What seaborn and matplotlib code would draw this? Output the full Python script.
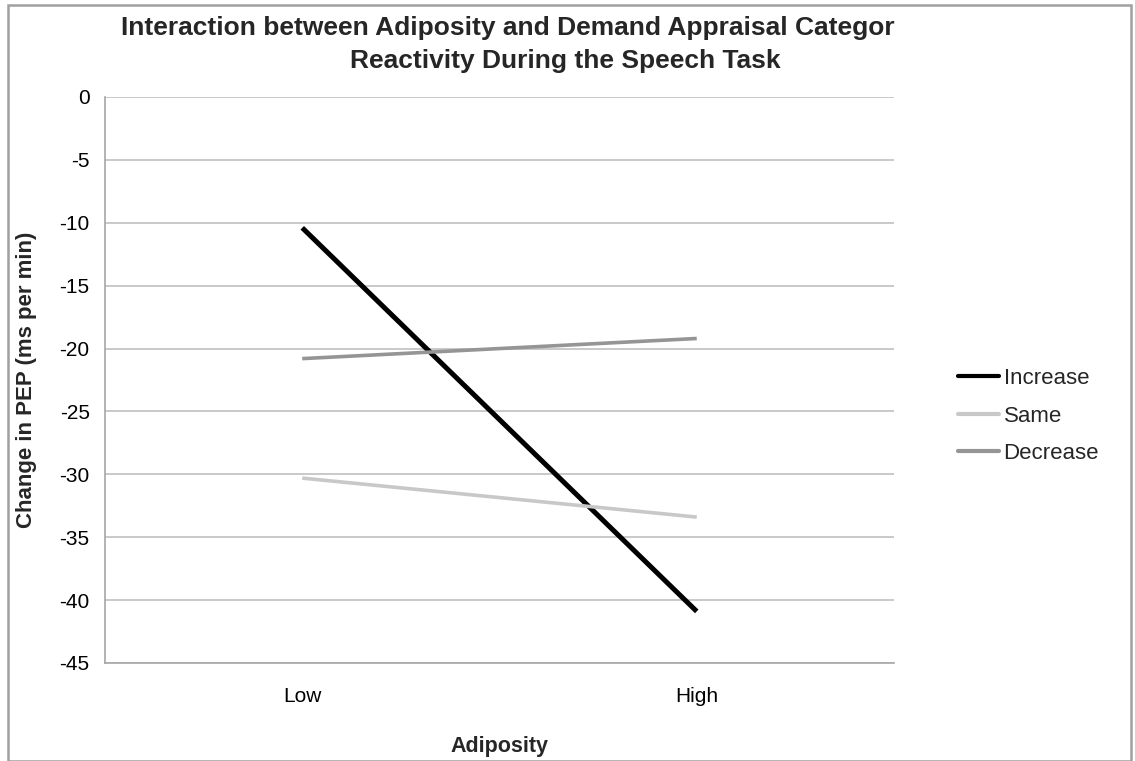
import matplotlib
matplotlib.use("Agg")
import matplotlib.pyplot as plt
from matplotlib.patches import Rectangle
from matplotlib.lines import Line2D
import seaborn as sns
import pandas as pd

# data
adiposity = ["Low", "High"]
increase = [-10.4, -40.9]
same = [-30.3, -33.4]
decrease = [-20.8, -19.2]
categories = ["Increase", "Same", "Decrease"]
yticks = list(range(-45, 1, 5))

colors = {"Increase": "#000000", "Same": "#c8c8c8", "Decrease": "#959595"}
widths = {"Increase": 3.6, "Same": 2.6, "Decrease": 2.6}

rows = []
for cat, vals in zip(categories, [increase, same, decrease]):
    for a, v in zip(adiposity, vals):
        rows.append({"Adiposity": a, "PEP": v, "Category": cat})
df = pd.DataFrame(rows)

sns.set_theme(style="white")
plt.rcParams['font.family'] = ['Liberation Sans', 'DejaVu Sans']

fig = plt.figure(figsize=(11.35, 7.61), dpi=100)
ax = fig.add_axes([105 / 1135, 1 - 663 / 761, 789 / 1135, 566 / 761])

sns.lineplot(data=df, x="Adiposity", y="PEP", hue="Category", hue_order=categories,
             palette=colors, sort=False, ax=ax, legend=False)
for line, cat in zip(ax.lines, categories):
    line.set_linewidth(widths[cat])
    line.set_solid_capstyle("butt")

ax.set_xlim(-0.5, 1.5)
ax.set_ylim(-45, 0)
ax.set_yticks(yticks)
ax.set_yticklabels([str(t) for t in yticks])
ax.yaxis.grid(True, color="#c0c0c0", linewidth=1.2)
ax.set_axisbelow(True)
for s in ["top", "right"]:
    ax.spines[s].set_visible(False)
for s in ["left", "bottom"]:
    ax.spines[s].set_color("#a6a6a6")
    ax.spines[s].set_linewidth(1.2)
ax.tick_params(axis="y", length=0, labelsize=15, colors="#000000", pad=11)
ax.tick_params(axis="x", length=0, labelsize=15, colors="#000000", pad=17)

ax.set_xlabel("Adiposity", fontsize=15.5, fontweight="bold", labelpad=22)
ax.set_ylabel("Change in PEP (ms per min)", fontsize=16, fontweight="bold", labelpad=16)

# legend
handles = [Line2D([0], [0], color=colors[c], linewidth=3) for c in categories]
fig.legend(handles, categories, loc="center left", bbox_to_anchor=(958 / 1135, 1 - 416 / 761),
           frameon=False, fontsize=16, handlelength=1.85, handletextpad=0.2,
           labelspacing=0.75, borderpad=0, borderaxespad=0)

# title (cut off at right edge like the original)
fig.text(121 / 1135, 1 - 28 / 761, "Interaction between Adiposity and Demand Appraisal Categor",
         fontsize=19, fontweight="bold", ha="left", va="center")
fig.text(565 / 1135, 1 - 61 / 761, "Reactivity During the Speech Task",
         fontsize=19, fontweight="bold", ha="center", va="center")

# outer chart border
fig.patches.append(Rectangle((8 / 1135, 0.5 / 761), 1123 / 1135, 756 / 761,
                             transform=fig.transFigure, fill=False,
                             edgecolor="#a0a0a0", linewidth=1.8))

fig.savefig("out.png", dpi=100)
